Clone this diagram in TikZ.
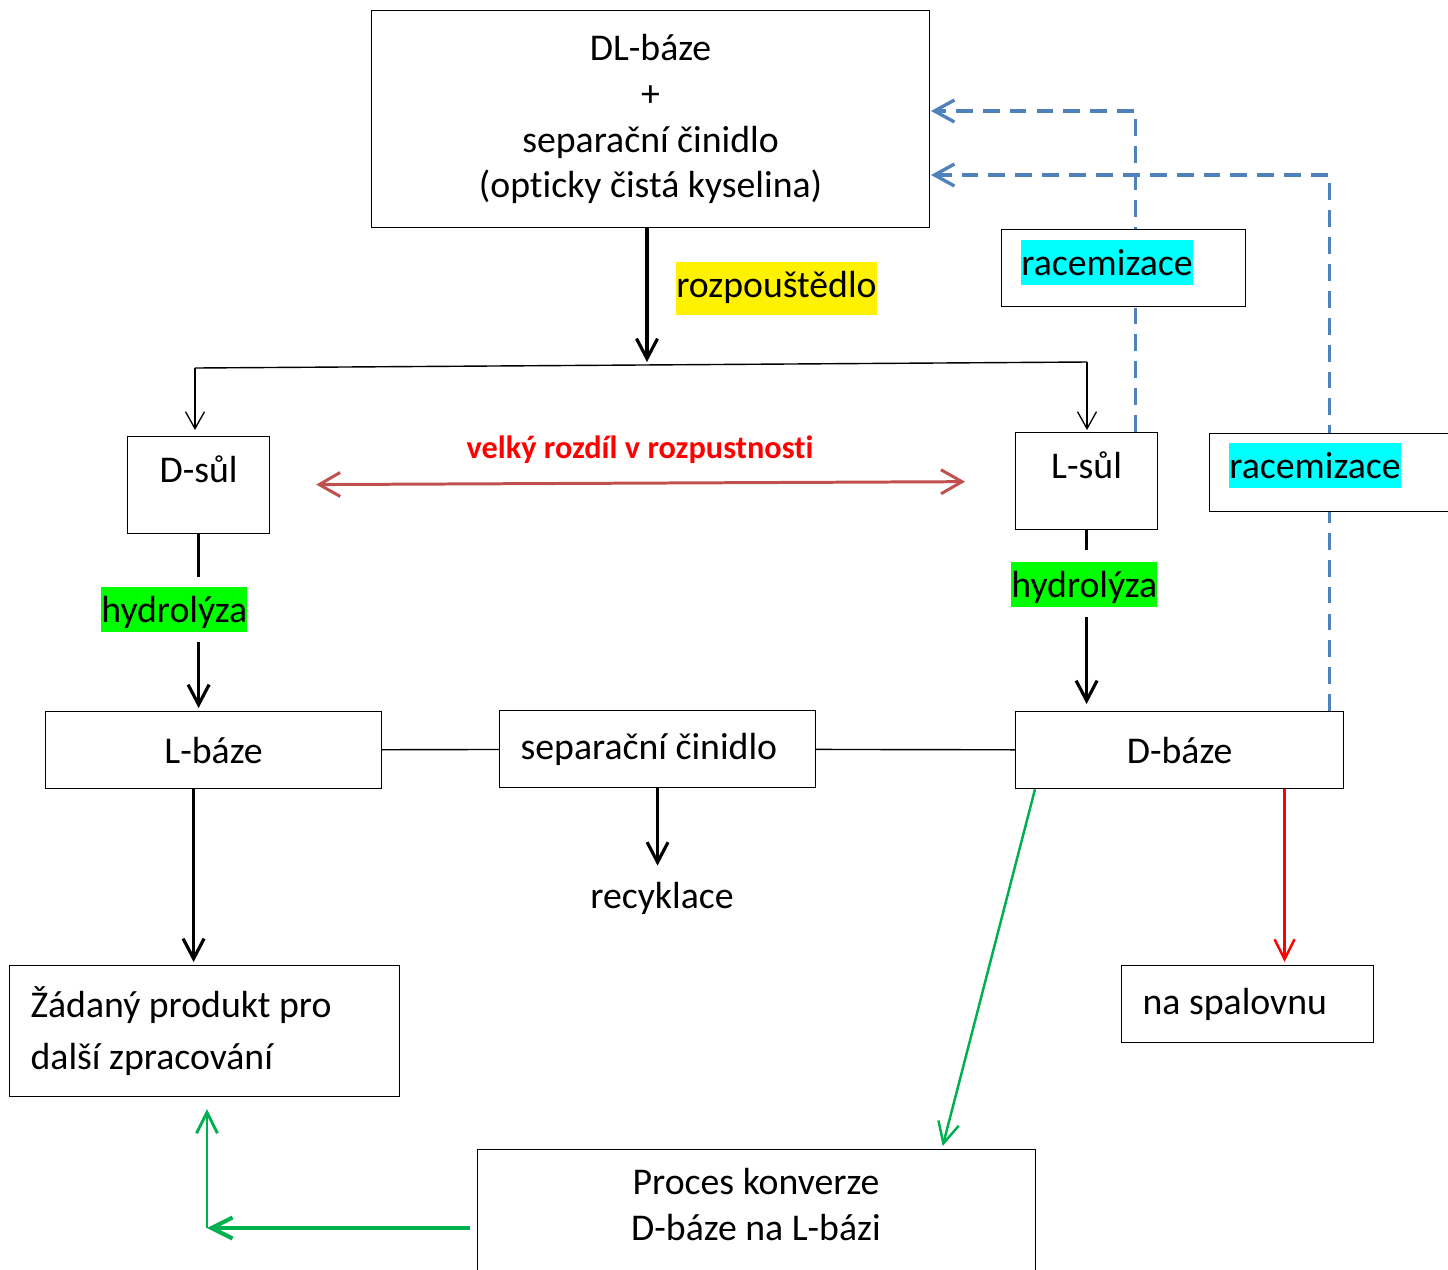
\documentclass[tikz,border=0pt]{standalone}
\usepackage{fontspec}
\setmainfont{Carlito}[Ligatures=NoCommon]
\usetikzlibrary{arrows.meta}
\definecolor{dashblue}{HTML}{4F81BD}
\definecolor{diffred}{HTML}{C0504D}
\definecolor{convgreen}{HTML}{00B050}
\definecolor{hlgreen}{HTML}{00FF00}
\definecolor{hlcyan}{HTML}{00FFFF}

\begin{document}
\begin{tikzpicture}[x=0.02cm, y=-0.02cm,
	every node/.style={font=\fontsize{21.5}{26}\selectfont},
	boxed/.style={draw, line width=0.7pt, fill=white, inner sep=0pt, anchor=north west},
	hl/.style={fill=#1, inner sep=0pt, text height=0.7cm, text depth=0.2cm, anchor=base west},
	plain/.style={line width=0.8pt},
	heavy/.style={line width=1.8pt},
	heavyarr/.style={heavy, -{Straight Barb[length=0.4cm, width=0.42cm]}},
	thinarr/.style={line width=0.75pt, -{Straight Barb[length=0.34cm, width=0.38cm]}},
	dasharr/.style={draw=dashblue, line width=1.9pt, dash pattern=on 9.6pt off 5.7pt, -{Straight Barb[length=0.4cm, width=0.44cm]}},
	duoarr/.style={draw=diffred, line width=1.7pt, {Straight Barb[length=0.42cm, width=0.48cm]}-{Straight Barb[length=0.42cm, width=0.48cm]}},
	redarr/.style={draw=red, line width=1.4pt, -{Straight Barb[length=0.4cm, width=0.4cm]}},
	grnarr/.style={draw=convgreen, line width=1.4pt, -{Straight Barb[length=0.42cm, width=0.42cm]}}]
	\useasboundingbox (0,0) rectangle (1448,1269);
	% boxes
	\node[boxed, minimum width=11.16cm, minimum height=4.34cm, align=center] (dl) at (371,10) {DL-báze\\+\\separační činidlo\\(opticky čistá kyselina)};
	\node[boxed, minimum width=2.84cm, minimum height=1.94cm, text height=0.92cm, text depth=1.02cm] (dsul) at (127,436) {D-sůl};
	\node[boxed, minimum width=2.84cm, minimum height=1.94cm, text height=0.92cm, text depth=1.02cm] (lsul) at (1015,432) {L-sůl};
	\node[boxed, minimum width=6.72cm, minimum height=1.54cm] (lbaze) at (45,711) {L-báze};
	\node[boxed, minimum width=6.32cm, minimum height=1.54cm, align=flush left, text width=5.48cm, inner xsep=0.42cm] (sepc) at (499,710) {separační činidlo};
	\node[boxed, minimum width=6.56cm, minimum height=1.54cm] (dbaze) at (1015,711) {D-báze};
	\node[boxed, minimum width=7.8cm, minimum height=2.62cm, align=flush left, text width=6.96cm, inner xsep=0.42cm, font=\fontsize{21.5}{30}\selectfont] (zad) at (9,965) {Žádaný produkt pro\\další zpracování};
	\node[boxed, minimum width=5.04cm, minimum height=1.54cm, align=flush left, text width=4.2cm, inner xsep=0.42cm] (spal) at (1121,965) {na spalovnu};
	\node[boxed, minimum width=11.16cm, minimum height=3.3cm] (proc) at (477,1149) {};
	\node[anchor=base, align=center] (proct) at (756,1240) {Proces konverze\\D-báze na L-bázi};
	\node[anchor=base] (recyk) at (662,908) {recyklace};
	% labels
	\node[hl=yellow, text depth=0.36cm] (solv) at (676,297) {rozpouštědlo\hspace{0.42cm}};
	\node[hl=hlgreen] (hydl) at (101,622) {hydrolýza};
	\node[hl=hlgreen] (hydr) at (1011,597) {hydrolýza};
	\node[anchor=base, text=red, font=\fontsize{18.4}{22}\selectfont\bfseries] (diff) at (640,458) {velký rozdíl v rozpustnosti};
	% racemizace loops
	\coordinate (ret1) at (931,111);
	\coordinate (ret2) at (931,175);
	\draw[dasharr] ([xshift=0.98cm]lsul.north) |- (ret1);
	\draw[dasharr] ([xshift=3cm]dbaze.north) |- (ret2);
	\node[boxed, minimum width=4.88cm, minimum height=1.54cm] (rac1) at (1001,229) {};
	\node[hl=hlcyan] (rac1t) at (1021,275) {racemizace};
	\node[boxed, minimum width=5.2cm, minimum height=1.56cm] (rac2) at (1209,433) {};
	\node[hl=hlcyan] (rac2t) at (1229,478) {racemizace};
	% separation
	\coordinate (fork) at (647,362);
	\coordinate (forkl) at (195,368);
	\coordinate (forkr) at (1087,362);
	\draw[heavyarr] (dl.south -| fork) -- (fork);
	\draw[plain] (forkl) -- (forkr);
	\draw[thinarr, shorten >=0.12cm] (forkl) -- (forkl |- dsul.north);
	\draw[thinarr, shorten >=0.04cm] (forkr) -- (forkr |- lsul.north);
	\draw[duoarr, shorten <=0.92cm, shorten >=1cm] (dsul) -- (lsul);
	% hydrolysis
	\draw[heavy, shorten >=0.2cm] (dsul.south) -- (dsul.south |- hydl.north);
	\draw[heavyarr, shorten <=0.2cm, shorten >=0.06cm] (dsul.south |- hydl.south) -- (dsul.south |- lbaze.north);
	\draw[heavy, shorten >=0.24cm] (lsul.south) -- (lsul.south |- hydr.north);
	\draw[heavyarr, shorten <=0.2cm, shorten >=0.14cm] (lsul.south |- hydr.south) -- (lsul.south |- dbaze.north);
	\draw[plain] (lbaze) -- (sepc);
	\draw[plain] (sepc) -- (dbaze);
	% outputs
	\draw[heavyarr, shorten >=0.06cm] ([xshift=-0.4cm]lbaze.south) -- ([xshift=-0.4cm]lbaze.south |- zad.north);
	\draw[heavyarr, shorten >=0.2cm] (sepc.south) -- (sepc.south |- recyk.north);
	\draw[redarr, shorten >=0.06cm] ([xshift=2.1cm]dbaze.south) -- ([xshift=2.1cm]dbaze.south |- spal.north);
	\draw[grnarr, shorten >=0.06cm] ([xshift=0.4cm]dbaze.south west) -- ([xshift=9.3cm]proc.north west);
	\coordinate (back) at (207,1228);
	\draw[grnarr, line width=2.3pt, shorten <=0.14cm] (proc.west |- back) -- (back);
	\draw[grnarr, line width=1.6pt, shorten >=0.24cm] (back) -- (back |- zad.south);
\end{tikzpicture}
\end{document}
